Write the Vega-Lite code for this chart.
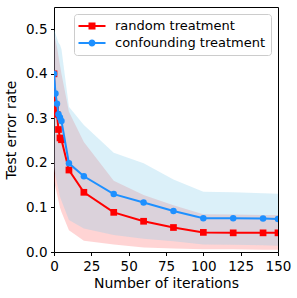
{
  "$schema": "https://vega.github.io/schema/vega-lite/v6.json",
  "width": 224,
  "height": 245,
  "autosize": {"type": "none"},
  "padding": {"left": 54, "top": 7, "right": 19, "bottom": 46},
  "background": "white",
  "config": {
    "font": "DejaVu Sans",
    "view": {"stroke": "black", "strokeWidth": 1},
    "axis": {
      "domain": false,
      "grid": false,
      "labelFlush": false,
      "tickColor": "black",
      "tickSize": 3.5,
      "tickWidth": 1,
      "labelColor": "black",
      "labelFontSize": 13.5,
      "labelFont": "DejaVu Sans",
      "labelPadding": 3.5,
      "titleFont": "DejaVu Sans",
      "titleFontSize": 14,
      "titleFontWeight": "normal",
      "titleColor": "black"
    },
    "legend": {
      "orient": "top-right",
      "offset": 7,
      "fillColor": "white",
      "strokeColor": "#cccccc",
      "cornerRadius": 3,
      "padding": 5,
      "symbolOffset": 6,
      "symbolSize": 196,
      "symbolOpacity": 1,
      "symbolStrokeWidth": 0,
      "labelOffset": 16,
      "rowPadding": 3,
      "labelFont": "DejaVu Sans",
      "labelFontSize": 13,
      "labelColor": "black"
    }
  },
  "data": {
    "values": [
      {"series": "random treatment", "iter": 0, "mean": 0.400, "lo": 0.160, "hi": 0.490},
      {"series": "random treatment", "iter": 1, "mean": 0.320, "lo": 0.145, "hi": 0.475},
      {"series": "random treatment", "iter": 2, "mean": 0.309, "lo": 0.130, "hi": 0.460},
      {"series": "random treatment", "iter": 3, "mean": 0.275, "lo": 0.115, "hi": 0.440},
      {"series": "random treatment", "iter": 4, "mean": 0.256, "lo": 0.100, "hi": 0.420},
      {"series": "random treatment", "iter": 5, "mean": 0.252, "lo": 0.090, "hi": 0.400},
      {"series": "random treatment", "iter": 10, "mean": 0.184, "lo": 0.049, "hi": 0.315},
      {"series": "random treatment", "iter": 20, "mean": 0.134, "lo": 0.025, "hi": 0.247},
      {"series": "random treatment", "iter": 40, "mean": 0.089, "lo": 0.017, "hi": 0.160},
      {"series": "random treatment", "iter": 60, "mean": 0.069, "lo": 0.010, "hi": 0.128},
      {"series": "random treatment", "iter": 80, "mean": 0.055, "lo": 0.008, "hi": 0.105},
      {"series": "random treatment", "iter": 100, "mean": 0.044, "lo": 0.006, "hi": 0.085},
      {"series": "random treatment", "iter": 120, "mean": 0.043, "lo": 0.006, "hi": 0.084},
      {"series": "random treatment", "iter": 140, "mean": 0.043, "lo": 0.005, "hi": 0.083},
      {"series": "random treatment", "iter": 150, "mean": 0.043, "lo": 0.005, "hi": 0.083},
      {"series": "confounding treatment", "iter": 0, "mean": 0.400, "lo": 0.190, "hi": 0.500},
      {"series": "confounding treatment", "iter": 1, "mean": 0.356, "lo": 0.170, "hi": 0.490},
      {"series": "confounding treatment", "iter": 2, "mean": 0.333, "lo": 0.155, "hi": 0.480},
      {"series": "confounding treatment", "iter": 3, "mean": 0.309, "lo": 0.140, "hi": 0.470},
      {"series": "confounding treatment", "iter": 4, "mean": 0.302, "lo": 0.124, "hi": 0.465},
      {"series": "confounding treatment", "iter": 5, "mean": 0.294, "lo": 0.115, "hi": 0.455},
      {"series": "confounding treatment", "iter": 10, "mean": 0.199, "lo": 0.072, "hi": 0.326},
      {"series": "confounding treatment", "iter": 20, "mean": 0.170, "lo": 0.053, "hi": 0.285},
      {"series": "confounding treatment", "iter": 40, "mean": 0.130, "lo": 0.038, "hi": 0.223},
      {"series": "confounding treatment", "iter": 60, "mean": 0.111, "lo": 0.030, "hi": 0.199},
      {"series": "confounding treatment", "iter": 80, "mean": 0.092, "lo": 0.024, "hi": 0.163},
      {"series": "confounding treatment", "iter": 100, "mean": 0.076, "lo": 0.017, "hi": 0.135},
      {"series": "confounding treatment", "iter": 120, "mean": 0.076, "lo": 0.016, "hi": 0.134},
      {"series": "confounding treatment", "iter": 140, "mean": 0.075, "lo": 0.015, "hi": 0.132},
      {"series": "confounding treatment", "iter": 150, "mean": 0.074, "lo": 0.014, "hi": 0.131}
    ]
  },
  "encoding": {
    "x": {
      "field": "iter", "type": "quantitative",
      "scale": {"domain": [0, 150], "nice": false, "zero": false},
      "axis": {"values": [0, 25, 50, 75, 100, 125, 150], "title": "Number of iterations", "titlePadding": 4}
    }
  },
  "layer": [
    {
      "transform": [{"filter": "datum.series === 'random treatment'"}],
      "mark": {"type": "area", "color": "#ff0000", "opacity": 0.17, "clip": true},
      "encoding": {
        "y": {
          "field": "hi", "type": "quantitative",
          "scale": {"domain": [0, 0.55], "nice": false},
          "axis": {"values": [0, 0.1, 0.2, 0.3, 0.4, 0.5], "format": ".1f", "title": "Test error rate", "titlePadding": 7}
        },
        "y2": {"field": "lo"}
      }
    },
    {
      "transform": [{"filter": "datum.series === 'confounding treatment'"}],
      "mark": {"type": "area", "color": "#87ceeb", "opacity": 0.3, "clip": true},
      "encoding": {
        "y": {"field": "hi", "type": "quantitative"},
        "y2": {"field": "lo"}
      }
    },
    {
      "transform": [{"filter": "datum.series === 'random treatment'"}],
      "mark": {"type": "line", "color": "#ff0000", "strokeWidth": 2, "clip": true},
      "encoding": {"y": {"field": "mean", "type": "quantitative"}}
    },
    {
      "transform": [{"filter": "datum.series === 'random treatment'"}],
      "mark": {"type": "point", "shape": "square", "filled": true, "color": "#ff0000", "opacity": 1, "size": 45, "clip": true},
      "encoding": {"y": {"field": "mean", "type": "quantitative"}}
    },
    {
      "transform": [{"filter": "datum.series === 'confounding treatment'"}],
      "mark": {"type": "line", "color": "#1e90ff", "strokeWidth": 2, "clip": true},
      "encoding": {"y": {"field": "mean", "type": "quantitative"}}
    },
    {
      "transform": [{"filter": "datum.series === 'confounding treatment'"}],
      "mark": {"type": "point", "shape": "circle", "filled": true, "color": "#1e90ff", "opacity": 1, "size": 42, "clip": true},
      "encoding": {"y": {"field": "mean", "type": "quantitative"}}
    },
    {
      "mark": {"type": "point", "filled": true, "opacity": 0, "size": 196, "clip": true},
      "encoding": {
        "y": {"field": "mean", "type": "quantitative"},
        "color": {
          "field": "series", "type": "nominal",
          "scale": {"domain": ["random treatment", "confounding treatment"], "range": ["#ff0000", "#1e90ff"]},
          "legend": {"title": null}
        },
        "shape": {
          "field": "series", "type": "nominal",
          "scale": {
            "domain": ["random treatment", "confounding treatment"],
            "range": [
              "M-1.93,-0.143H1.93V0.143H-1.93Z M-0.5,-0.5H0.5V0.5H-0.5Z",
              "M-1.93,-0.143H1.93V0.143H-1.93Z M-0.5,0A0.5,0.5,0,1,1,0.5,0A0.5,0.5,0,1,1,-0.5,0Z"
            ]
          },
          "legend": {"title": null}
        }
      }
    }
  ]
}
